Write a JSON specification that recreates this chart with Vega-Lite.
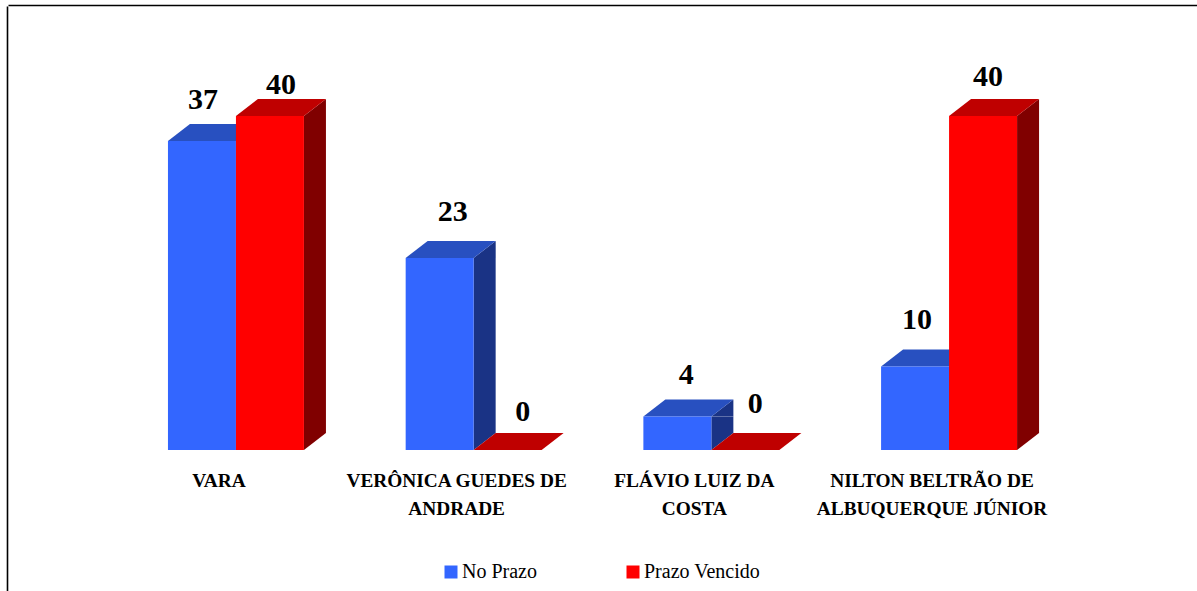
{
"$schema":"https://vega.github.io/schema/vega-lite/v6.json",
"width":1189,"height":585,
"autosize":"none",
"padding":{"left":8,"top":6,"right":0,"bottom":0},
"background":"white",
"config":{"view":{"stroke":null},"text":{"font":"Liberation Serif"}},
"data":{"values":[
{"relator":"VARA","serie":"No Prazo","total":37},
{"relator":"VARA","serie":"Prazo Vencido","total":40},
{"relator":"VERÔNICA GUEDES DE|ANDRADE","serie":"No Prazo","total":23},
{"relator":"VERÔNICA GUEDES DE|ANDRADE","serie":"Prazo Vencido","total":0},
{"relator":"FLÁVIO LUIZ DA|COSTA","serie":"No Prazo","total":4},
{"relator":"FLÁVIO LUIZ DA|COSTA","serie":"Prazo Vencido","total":0},
{"relator":"NILTON BELTRÃO DE|ALBUQUERQUE JÚNIOR","serie":"No Prazo","total":10},
{"relator":"NILTON BELTRÃO DE|ALBUQUERQUE JÚNIOR","serie":"Prazo Vencido","total":40}
]},
"encoding":{
"x":{"field":"relator","type":"nominal","sort":null,"axis":null,"scale":{"paddingInner":0.428,"paddingOuter":0.715,"align":0.4706}},
"xOffset":{"field":"serie","type":"nominal","sort":null},
"y":{"field":"total","type":"quantitative","stack":null,"scale":{"domain":[-16.886,53.174],"nice":false,"zero":false},
 "axis":{"orient":"left","offset":1,"title":null,"labels":false,"ticks":false,"grid":false,"domain":true,"domainColor":"#000000","domainWidth":1.6}}
},
"resolve":{"axis":{"x":"independent"}},
"layer":[
{"mark":{"type":"bar","width":22,"xOffset":11,"y2Offset":-17,"color":"#1A3385"},"transform":[{"filter":"datum.serie=='No Prazo' && datum.total>0"}],"encoding":{"xOffset":null,"y2":{"datum":0}}},
{"mark":{"type":"point","shape":"M34,0 L56,-17 L56,0 Z","size":4,"filled":true,"opacity":1,"color":"#1A3385"},"transform":[{"filter":"datum.serie=='No Prazo' && datum.total>0"}]},
{"mark":{"type":"point","shape":"M34,0 L34,-17 L56,-17 Z","size":4,"filled":true,"opacity":1,"color":"#1A3385"},"transform":[{"filter":"datum.serie=='No Prazo' && datum.total>0"}],"encoding":{"y":{"datum":0}}},
{"mark":{"type":"point","shape":"M-34,0 L34,0 L56,-17 L-12,-17 Z","size":4,"filled":true,"opacity":1,"color":"#2850C0"},"transform":[{"filter":"datum.serie=='No Prazo'"}]},
{"mark":{"type":"bar"},"transform":[{"filter":"datum.serie=='No Prazo'"}],
 "encoding":{"color":{"field":"serie","type":"nominal","scale":{"domain":["No Prazo","Prazo Vencido"],"range":["#3366FF","#FF0000"]},
 "legend":{"title":null,"orient":"none","legendX":433,"legendY":556,"direction":"horizontal","symbolType":"square","symbolSize":169,"symbolStrokeWidth":0,"symbolOpacity":1,"labelFont":"Liberation Serif","labelFontSize":20,"labelColor":"#000000","labelOffset":1,"columnPadding":86,"labelLimit":300}}}},
{"mark":{"type":"bar","width":22,"xOffset":79,"y2Offset":-17,"color":"#800000"},"transform":[{"filter":"datum.serie=='Prazo Vencido' && datum.total>0"}],"encoding":{"xOffset":null,"y2":{"datum":0}}},
{"mark":{"type":"point","shape":"M34,0 L56,-17 L56,0 Z","size":4,"filled":true,"opacity":1,"color":"#800000"},"transform":[{"filter":"datum.serie=='Prazo Vencido' && datum.total>0"}]},
{"mark":{"type":"point","shape":"M34,0 L34,-17 L56,-17 Z","size":4,"filled":true,"opacity":1,"color":"#800000"},"transform":[{"filter":"datum.serie=='Prazo Vencido' && datum.total>0"}],"encoding":{"y":{"datum":0}}},
{"mark":{"type":"point","shape":"M-34,0 L34,0 L56,-17 L-12,-17 Z","size":4,"filled":true,"opacity":1,"color":"#BF0000"},"transform":[{"filter":"datum.serie=='Prazo Vencido'"}]},
{"mark":{"type":"bar"},"transform":[{"filter":"datum.serie=='Prazo Vencido' && datum.total>0"}],
 "encoding":{"color":{"field":"serie","type":"nominal"}}},
{"mark":{"type":"text","font":"Liberation Serif","fontWeight":"bold","fontSize":30,"color":"#000000","dx":1,"dy":-41},"transform":[{"filter":"datum.serie=='No Prazo' && datum.total==37"}],"encoding":{"text":{"field":"total"}}},
{"mark":{"type":"text","font":"Liberation Serif","fontWeight":"bold","fontSize":30,"color":"#000000","dx":11,"dy":-31},"transform":[{"filter":"datum.serie=='Prazo Vencido' && datum.relator=='VARA'"}],"encoding":{"text":{"field":"total"}}},
{"mark":{"type":"text","font":"Liberation Serif","fontWeight":"bold","fontSize":30,"color":"#000000","dx":13,"dy":-46},"transform":[{"filter":"datum.serie=='No Prazo' && datum.total==23"}],"encoding":{"text":{"field":"total"}}},
{"mark":{"type":"text","font":"Liberation Serif","fontWeight":"bold","fontSize":30,"color":"#000000","dx":15,"dy":-38},"transform":[{"filter":"datum.serie=='Prazo Vencido' && datum.relator=='VERÔNICA GUEDES DE|ANDRADE'"}],"encoding":{"text":{"field":"total"}}},
{"mark":{"type":"text","font":"Liberation Serif","fontWeight":"bold","fontSize":30,"color":"#000000","dx":9,"dy":-42},"transform":[{"filter":"datum.serie=='No Prazo' && datum.total==4"}],"encoding":{"text":{"field":"total"}}},
{"mark":{"type":"text","font":"Liberation Serif","fontWeight":"bold","fontSize":30,"color":"#000000","dx":10,"dy":-46},"transform":[{"filter":"datum.serie=='Prazo Vencido' && datum.relator=='FLÁVIO LUIZ DA|COSTA'"}],"encoding":{"text":{"field":"total"}}},
{"mark":{"type":"text","font":"Liberation Serif","fontWeight":"bold","fontSize":30,"color":"#000000","dx":2,"dy":-47},"transform":[{"filter":"datum.serie=='No Prazo' && datum.total==10"}],"encoding":{"text":{"field":"total"}}},
{"mark":{"type":"text","font":"Liberation Serif","fontWeight":"bold","fontSize":30,"color":"#000000","dx":5,"dy":-39},"transform":[{"filter":"datum.serie=='Prazo Vencido' && datum.relator=='NILTON BELTRÃO DE|ALBUQUERQUE JÚNIOR'"}],"encoding":{"text":{"field":"total"}}},
{"mark":{"type":"bar","opacity":0},"encoding":{"x":{"field":"relator","type":"nominal","sort":null,"axis":{"orient":"bottom","offset":-141,"title":null,"domain":false,"ticks":false,"grid":false,"labelAngle":0,"labelExpr":"split(datum.label,'|')","labelFont":"Liberation Serif","labelFontWeight":"bold","labelFontSize":19.35,"labelLineHeight":28,"labelColor":"#000000","labelPadding":21,"labelOffset":-17,"labelLimit":400,"labelOverlap":false,"labelBound":false,"labelFlush":false}}}},
{"mark":{"type":"bar","opacity":0},"encoding":{"x":{"field":"relator","type":"nominal","sort":null,"axis":{"orient":"top","offset":1,"title":null,"labels":false,"ticks":false,"grid":false,"domain":true,"domainColor":"#000000","domainWidth":1.6}}}}
]
}
